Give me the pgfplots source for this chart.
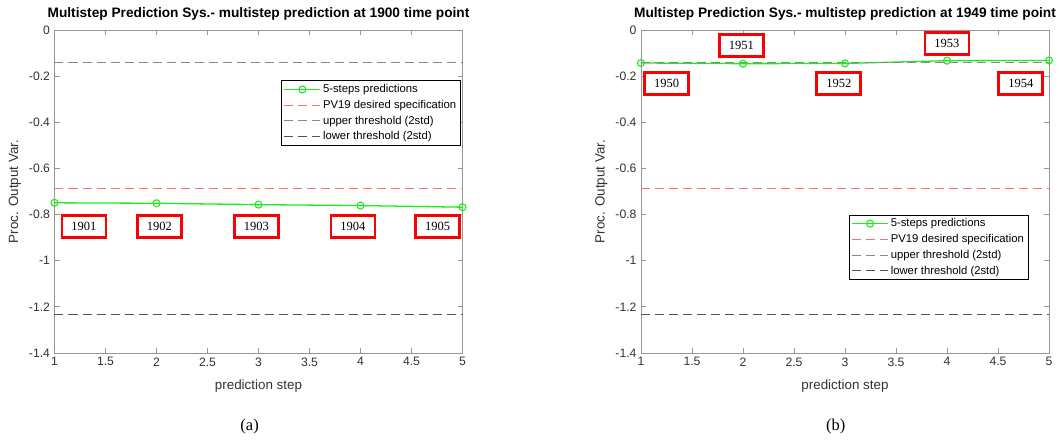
\documentclass[border=0pt]{standalone}
\usepackage{fontspec}
\setmainfont{Liberation Sans}
\newfontfamily\serifff{Liberation Serif}
\usepackage{pgfplots}
\usepackage{pgfplotstable}
\pgfplotsset{compat=1.18}
\definecolor{axgray}{RGB}{150,150,150}
\definecolor{ticktext}{RGB}{50,50,50}
\definecolor{predgreen}{RGB}{30,235,30}
\definecolor{specred}{RGB}{255,110,110}
\definecolor{upgray}{RGB}{135,135,135}
\definecolor{lowgray}{RGB}{85,85,85}
\definecolor{boxred}{RGB}{250,0,0}

\pgfplotstableread{
step value
1 -0.749
2 -0.751
3 -0.757
4 -0.761
5 -0.768
}\predA
\pgfplotstableread{
step value
1 -0.143
2 -0.146
3 -0.145
4 -0.133
5 -0.132
}\predB

\pgfplotsset{
  myax/.style={
    scale only axis, width=408pt, height=323pt,
    xmin=1, xmax=5, ymin=-1.4, ymax=0,
    xtick={1,1.5,2,2.5,3,3.5,4,4.5,5},
    ytick={-1.4,-1.2,-1,-0.8,-0.6,-0.4,-0.2,0},
    tick align=inside, major tick length=5pt,
    axis line style={draw=axgray, line width=0.9pt},
    tick style={draw=axgray, line width=0.8pt},
    /pgf/number format/assume math mode=true,
    /pgf/number format/fixed,
    tick label style={font=\fontsize{12.2}{13}\selectfont, text=ticktext},
    xticklabel style={yshift=-1pt},
    yticklabel style={xshift=-1pt},
    clip=false,
    title style={font=\bfseries\fontsize{13.7}{14}\selectfont, at={(axis cs:3,0.045)}, anchor=center},
    every axis x label/.style={at={(axis cs:3,-1.542)}, anchor=center, font=\fontsize{13.4}{14}\selectfont, text=ticktext},
    every axis y label/.style={at={(axis cs:0.612,-0.7)}, anchor=center, rotate=90, font=\fontsize{13.4}{14}\selectfont, text=ticktext},
    xlabel={prediction step},
    ylabel={Proc. Output Var.},
    legend cell align=left,
    legend image code/.code={\draw[mark repeat=2,mark phase=2,##1] plot coordinates {(0pt,0pt) (18pt,0pt) (36pt,0pt)};},
    legend style={draw=black, line width=0.5pt, font=\fontsize{11.3}{12}\selectfont,
      inner sep=2pt, row sep=2pt, /tikz/every even column/.append style={column sep=1pt}},
  },
  predline/.style={color=predgreen, line width=1.3pt, mark=o, mark size=3.5pt, mark options={line width=1.1pt}},
  specline/.style={color=specred, line width=0.8pt, dash pattern=on 9pt off 5pt},
  upline/.style={color=upgray, line width=0.9pt, dash pattern=on 9pt off 5pt},
  lowline/.style={color=lowgray, line width=0.9pt, dash pattern=on 9pt off 5pt},
}
\tikzset{yr/.style={draw=boxred, line width=2.6pt, minimum width=44pt, minimum height=22pt, inner sep=0pt, font=\serifff\fontsize{12.5}{13}\selectfont, text=black}}

\begin{document}
\begin{tikzpicture}[x=1pt,y=1pt]
\useasboundingbox (0,0) rectangle (1062,439);

\begin{axis}[myax, at={(54.5pt,86pt)}, anchor=south west,
  title={Multistep Prediction Sys.- multistep prediction at 1900 time point},
  legend style={at={(rel axis cs:0.995,0.844)}, anchor=north east}]
\addplot[predline] table[x=step,y=value] {\predA};
\addlegendentry{5-steps predictions}
\addplot[specline] coordinates {(1,-0.687) (5,-0.687)};
\addlegendentry{PV19 desired specification}
\addplot[upline] coordinates {(1,-0.141) (5,-0.141)};
\addlegendentry{upper threshold (2std)}
\addplot[lowline] coordinates {(1,-1.232) (5,-1.232)};
\addlegendentry{lower threshold (2std)}
\node[yr] at (axis cs:1.289,-0.851) {1901};
\node[yr] at (axis cs:2.029,-0.851) {1902};
\node[yr] at (axis cs:2.979,-0.851) {1903};
\node[yr] at (axis cs:3.925,-0.851) {1904};
\node[yr] at (axis cs:4.757,-0.851) {1905};
\node[font=\serifff\fontsize{16.5}{17}\selectfont] at (axis cs:2.913,-1.719) {(a)};
\end{axis}

\begin{axis}[myax, at={(641pt,86pt)}, anchor=south west,
  title={Multistep Prediction Sys.- multistep prediction at 1949 time point},
  legend style={at={(rel axis cs:0.949,0.4286)}, anchor=north east}]
\addplot[predline] table[x=step,y=value] {\predB};
\addlegendentry{5-steps predictions}
\addplot[specline] coordinates {(1,-0.687) (5,-0.687)};
\addlegendentry{PV19 desired specification}
\addplot[upline] coordinates {(1,-0.142) (5,-0.142)};
\addlegendentry{upper threshold (2std)}
\addplot[lowline] coordinates {(1,-1.232) (5,-1.232)};
\addlegendentry{lower threshold (2std)}
\node[yr] at (axis cs:1.252,-0.233) {1950};
\node[yr] at (axis cs:1.984,-0.068) {1951};
\node[yr] at (axis cs:2.939,-0.233) {1952};
\node[yr] at (axis cs:3.999,-0.059) {1953};
\node[yr] at (axis cs:4.723,-0.233) {1954};
\node[font=\serifff\fontsize{16.5}{17}\selectfont] at (axis cs:2.91,-1.719) {(b)};
\end{axis}
\end{tikzpicture}
\end{document}
